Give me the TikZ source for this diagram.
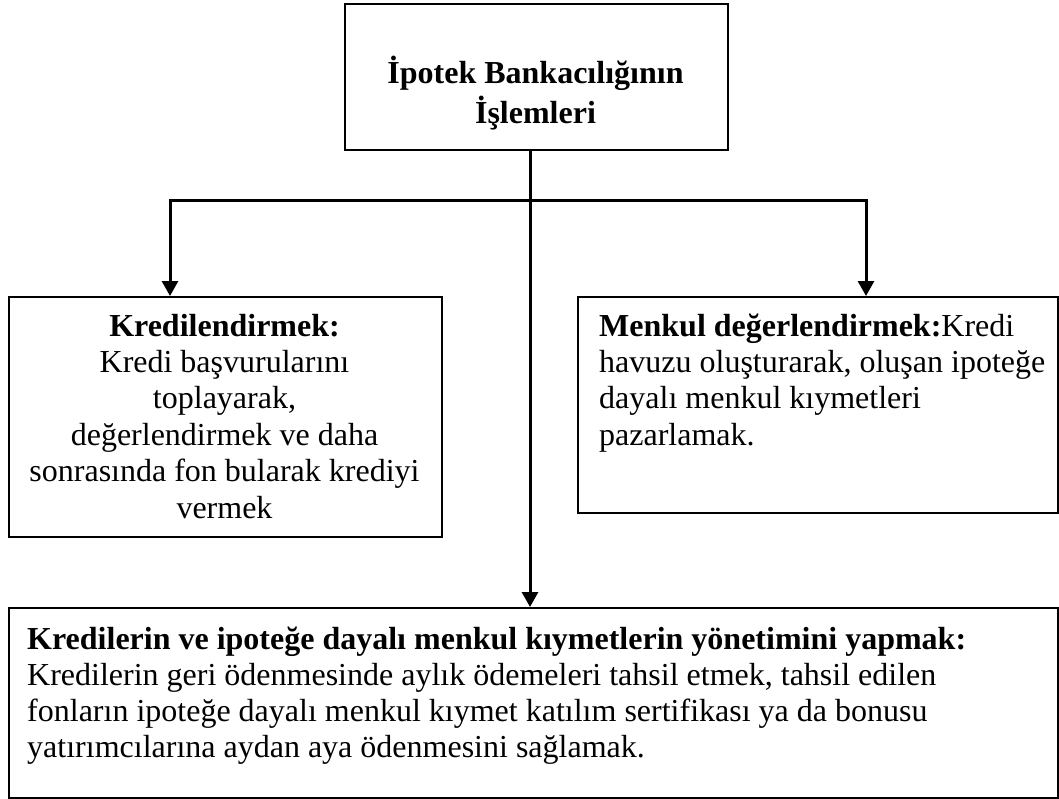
\documentclass[tikz,border=0pt]{standalone}
\usepackage{fontspec}
\setmainfont{Liberation Serif}
\usetikzlibrary{arrows.meta}
\begin{document}
\begin{tikzpicture}[x=1pt,y=-1pt,
  box/.style={draw=black,line width=1.8pt,inner sep=0pt,anchor=north west},
  txt/.style={inner sep=0pt,font=\fontsize{32}{36.4}\selectfont},
  link/.style={line width=3pt},
  arr/.style={link,-{Triangle[length=15pt,width=16pt]}}]
\useasboundingbox (0,0) rectangle (1059,798);

% boxes
\node[box,minimum width=383pt,minimum height=146pt] (top) at (344,3) {};
\node[box,minimum width=433pt,minimum height=240pt] (lb) at (8,296) {};
\node[box,minimum width=480pt,minimum height=216pt] (rb) at (577,296) {};
\node[box,minimum width=1049pt,minimum height=190pt] (bot) at (8,607) {};

% box texts
\node[txt,font=\fontsize{32}{37}\selectfont\bfseries,align=center,anchor=north] (title)
  at (535.5,56) {\strut İpotek Bankacılığının\\İşlemleri};
\node[txt,align=center,anchor=north] (lt) at (224.5,310.5)
  {\strut\textbf{Kredilendirmek:}\\Kredi başvurularını\\toplayarak,\\değerlendirmek ve daha\\sonrasında fon bularak krediyi\\vermek};
\node[txt,align=left,anchor=north west] (rt) at (599,310.5)
  {\strut\textbf{Menkul değerlendirmek:}Kredi\\havuzu oluşturarak, oluşan ipoteğe\\dayalı menkul kıymetleri\\pazarlamak.};
\node[txt,font=\fontsize{32}{35.8}\selectfont,align=left,anchor=north west] (bt) at (27,624.5)
  {\strut\textbf{Kredilerin ve ipoteğe dayalı menkul kıymetlerin yönetimini yapmak:}\\Kredilerin geri ödenmesinde aylık ödemeleri tahsil etmek, tahsil edilen\\fonların ipoteğe dayalı menkul kıymet katılım sertifikası ya da bonusu\\yatırımcılarına aydan aya ödenmesini sağlamak.};

% connectors
\coordinate (hub) at (530,200);
\coordinate (lx) at (170,200);
\coordinate (rx) at (866,200);
\draw[arr] (top.south -| hub) -- (bot.north -| hub);
\draw[arr] (hub) -| (lb.north -| lx);
\draw[arr] (hub) -| (rb.north -| rx);
\end{tikzpicture}
\end{document}
